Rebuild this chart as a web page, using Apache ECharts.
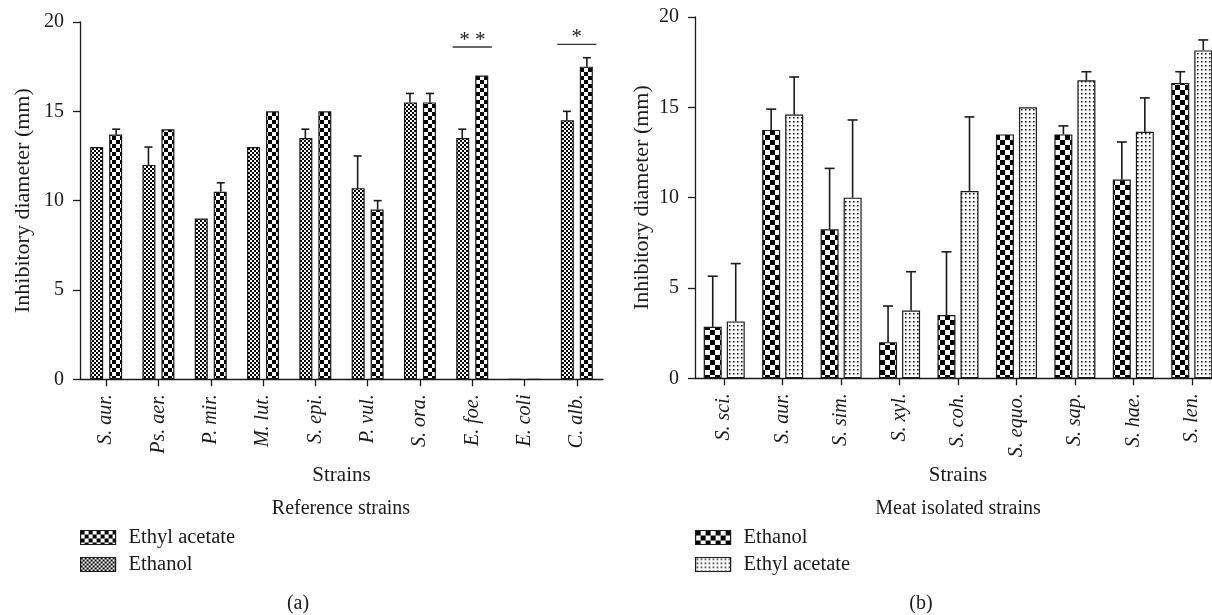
<!DOCTYPE html>
<html>
<head>
<meta charset="utf-8">
<title>Inhibitory diameter</title>
<script src="https://cdn.jsdelivr.net/npm/echarts@6/dist/echarts.min.js"></script>
<style>
  html, body { margin: 0; padding: 0; background: #fff; }
  #ec { width: 1212px; height: 615px; }
</style>
</head>
<body>
<div id="ec"></div>
<script>
// ================= (a) Reference strains
var left_cats = ['S. aur.', 'Ps. aer.', 'P. mir.', 'M. lut.', 'S. epi.', 'P. vul.', 'S. ora.', 'E. foe.', 'E. coli', 'C. alb.'];
var left_ethanol = [13, 12, 9, 13, 13.5, 10.7, 15.5, 13.5, 0, 14.5];
var left_ethanol_err = [0, 1, 0, 0, 0.5, 1.8, 0.5, 0.5, 0, 0.5];
var left_ethyl = [13.7, 14, 10.5, 15, 15, 9.5, 15.5, 17, 0, 17.5];
var left_ethyl_err = [0.3, 0, 0.5, 0, 0, 0.5, 0.5, 0, 0, 0.5];
// significance marks (category index, height, text)
var left_sig_cat = [7, 9];
var left_sig_y = [18.6, 18.75];
var left_sig_txt = ['* *', '*'];

// ================= (b) Meat isolated strains
var right_cats = ['S. sci.', 'S. aur.', 'S. sim.', 'S. xyl.', 'S. coh.', 'S. equo.', 'S. sap.', 'S. hae.', 'S. len.'];
var right_ethanol = [2.85, 13.75, 8.25, 2.0, 3.5, 13.5, 13.5, 11.0, 16.35];
var right_ethanol_err = [2.8, 1.15, 3.37, 2.0, 3.5, 0, 0.47, 2.08, 0.62];
var right_ethyl = [3.15, 14.6, 10.0, 3.75, 10.37, 15, 16.5, 13.65, 18.15];
var right_ethyl_err = [3.2, 2.08, 4.3, 2.15, 4.1, 0, 0.47, 1.87, 0.58];

var y_ticks = [0, 5, 10, 15, 20];

var FONT = 'Liberation Serif';
var INK = '#1a1a1a';

// 图案
function make_checker(cell, fg, bg) {
  var c = document.createElement('canvas');
  c.width = c.height = cell * 2;
  var ctx = c.getContext('2d');
  ctx.fillStyle = bg;
  ctx.fillRect(0, 0, cell * 2, cell * 2);
  ctx.fillStyle = fg;
  ctx.fillRect(0, 0, cell, cell);
  ctx.fillRect(cell, cell, cell, cell);
  return { image: c, repeat: 'repeat' };
}

function make_dots(step, size) {
  var c = document.createElement('canvas');
  c.width = c.height = step;
  var ctx = c.getContext('2d');
  ctx.fillStyle = '#fff';
  ctx.fillRect(0, 0, step, step);
  ctx.fillStyle = '#000';
  ctx.fillRect(1, 1, size, size);
  return { image: c, repeat: 'repeat' };
}

var pat = {
  fine: make_checker(2, '#000', '#fff'),
  coarse: make_checker(4, '#000', '#fff'),
  big: make_checker(5, '#000', '#fff'),
  dots: make_dots(4, 1.5)
};

function pairs(arr, err) {
  return arr.map(function(v, i) { return [i, v, err[i]]; });
}

// 误差线
function err_series(name, data, xi, offset, cap) {
  return {
    name: name,
    type: 'custom',
    xAxisIndex: xi,
    yAxisIndex: xi,
    z: 5,
    silent: true,
    data: data,
    renderItem: function(params, api) {
      var e = api.value(2);
      if (!e) return null;
      var p0 = api.coord([api.value(0), api.value(1)]);
      var p1 = api.coord([api.value(0), api.value(1) + e]);
      var x = p0[0] + offset;
      var st = { stroke: INK, lineWidth: 1.6 };
      return {
        type: 'group',
        children: [
          { type: 'line', shape: { x1: x, y1: p0[1], x2: x, y2: p1[1] }, style: st },
          { type: 'line', shape: { x1: x - cap / 2, y1: p1[1], x2: x + cap / 2, y2: p1[1] }, style: st }
        ]
      };
    }
  };
}

function bar_series(name, vals, xi, color, bw) {
  return {
    name: name,
    type: 'bar',
    xAxisIndex: xi,
    yAxisIndex: xi,
    barWidth: bw,
    barGap: xi === 0 ? '46%' : '28%',
    data: vals,
    itemStyle: { color: color, borderColor: INK, borderWidth: 1.2 },
    emphasis: { disabled: true }
  };
}

function x_axis(idx, cats) {
  return {
    type: 'category',
    gridIndex: idx,
    data: cats,
    name: 'Strains',
    nameLocation: 'middle',
    nameGap: 86,
    nameTextStyle: { fontFamily: FONT, fontSize: 21, color: INK },
    axisLine: { show: true, lineStyle: { color: INK, width: 1.3 } },
    axisTick: { show: true, alignWithLabel: true, length: 7, lineStyle: { color: INK, width: 1.3 } },
    axisLabel: { rotate: 90, interval: 0, margin: 15, fontFamily: FONT, fontStyle: 'italic', fontSize: 20, color: INK },
    splitLine: { show: false }
  };
}

function y_axis(idx, gap) {
  return {
    type: 'value',
    gridIndex: idx,
    min: y_ticks[0],
    max: y_ticks[y_ticks.length - 1],
    interval: y_ticks[1] - y_ticks[0],
    name: 'Inhibitory diameter (mm)',
    nameLocation: 'middle',
    nameGap: gap,
    nameTextStyle: { fontFamily: FONT, fontSize: 22, color: INK },
    axisLine: { show: true, lineStyle: { color: INK, width: 1.3 } },
    axisTick: { show: true, length: 7, lineStyle: { color: INK, width: 1.3 } },
    axisLabel: { margin: 16, fontFamily: FONT, fontSize: 20, color: INK },
    splitLine: { show: false }
  };
}

var sig_data = left_sig_cat.map(function(c, i) { return [c, left_sig_y[i]]; });

var sig_series = {
  type: 'custom',
  xAxisIndex: 0,
  yAxisIndex: 0,
  silent: true,
  z: 6,
  data: sig_data,
  renderItem: function(params, api) {
    var p = api.coord([api.value(0), api.value(1)]);
    var half = api.size([1, 0])[0] * 0.375;
    return {
      type: 'group',
      children: [
        { type: 'line', shape: { x1: p[0] - half, y1: p[1], x2: p[0] + half, y2: p[1] }, style: { stroke: '#333', lineWidth: 1.4 } },
        { type: 'text', style: { text: left_sig_txt[params.dataIndex], x: p[0], y: p[1] + 4, align: 'center', verticalAlign: 'bottom', fontFamily: FONT, fontSize: 21, fill: INK } }
      ]
    };
  }
};

var legend_txt = { fontFamily: FONT, fontSize: 20.5, color: INK, padding: [0, 0, 0, 8] };

var ec = echarts.init(document.getElementById('ec'), null, { renderer: 'canvas' });

var option = {
  animation: false,
  backgroundColor: '#fff',
  grid: [
    { left: 80, top: 22, width: 523, height: 357.3, outerBoundsMode: 'none', containLabel: false },
    { left: 695, top: 17, width: 526, height: 361.3, outerBoundsMode: 'none', containLabel: false }
  ],
  xAxis: [x_axis(0, left_cats), x_axis(1, right_cats)],
  yAxis: [y_axis(0, 46), y_axis(1, 42)],
  legend: [
    {
      orient: 'vertical', left: 80, top: 527, padding: 0, itemWidth: 35, itemHeight: 14, itemGap: 6,
      icon: 'rect', selectedMode: false, textStyle: legend_txt,
      data: [
        { name: 'Ethyl acetate', itemStyle: { color: pat.coarse, borderColor: INK, borderWidth: 1.2 } },
        { name: 'Ethanol', itemStyle: { color: pat.fine, borderColor: INK, borderWidth: 1.2 } }
      ]
    },
    {
      orient: 'vertical', left: 695, top: 527, padding: 0, itemWidth: 35, itemHeight: 14, itemGap: 6,
      icon: 'rect', selectedMode: false, textStyle: legend_txt,
      data: [
        { name: 'Ethanol ', itemStyle: { color: pat.big, borderColor: INK, borderWidth: 1.2 } },
        { name: 'Ethyl acetate ', itemStyle: { color: pat.dots, borderColor: INK, borderWidth: 1.2 } }
      ]
    }
  ],
  graphic: [
    { type: 'text', x: 341, y: 509, style: { text: 'Reference strains', align: 'center', verticalAlign: 'middle', fontFamily: FONT, fontSize: 20, fill: INK } },
    { type: 'text', x: 958, y: 509, style: { text: 'Meat isolated strains', align: 'center', verticalAlign: 'middle', fontFamily: FONT, fontSize: 20, fill: INK } },
    { type: 'text', x: 298, y: 604, style: { text: '(a)', align: 'center', verticalAlign: 'middle', fontFamily: FONT, fontSize: 20, fill: INK } },
    { type: 'text', x: 921, y: 604, style: { text: '(b)', align: 'center', verticalAlign: 'middle', fontFamily: FONT, fontSize: 20, fill: INK } }
  ],
  series: [
    bar_series('Ethanol', left_ethanol, 0, pat.fine, 13),
    bar_series('Ethyl acetate', left_ethyl, 0, pat.coarse, 13),
    err_series('Ethanol', pairs(left_ethanol, left_ethanol_err), 0, -10, 8),
    err_series('Ethyl acetate', pairs(left_ethyl, left_ethyl_err), 0, 10, 8),
    sig_series,
    bar_series('Ethanol ', right_ethanol, 1, pat.big, 18),
    bar_series('Ethyl acetate ', right_ethyl, 1, pat.dots, 18),
    err_series('Ethanol ', pairs(right_ethanol, right_ethanol_err), 1, -11.5, 10),
    err_series('Ethyl acetate ', pairs(right_ethyl, right_ethyl_err), 1, 11.5, 10)
  ]
};

ec.setOption(option);
</script>
</body>
</html>
